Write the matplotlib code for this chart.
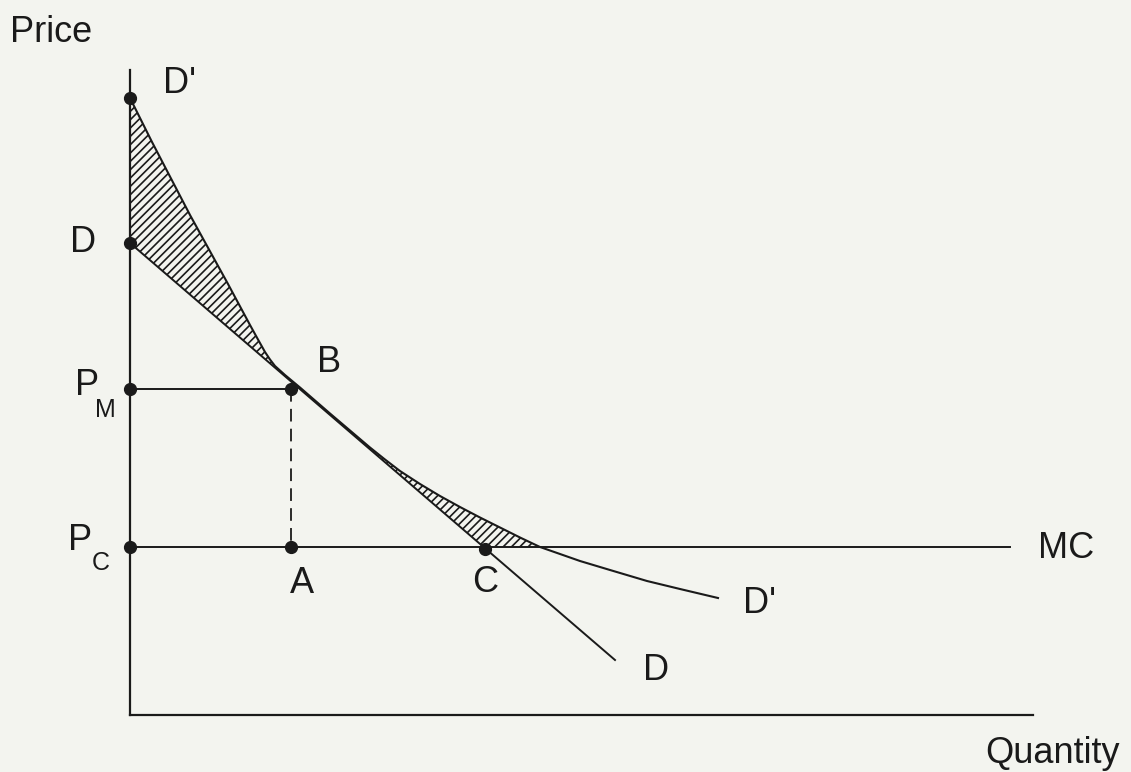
import numpy as np
import matplotlib
matplotlib.use("Agg")
import matplotlib.pyplot as plt

plt.rcParams['font.family'] = ['Liberation Sans', 'DejaVu Sans']
plt.rcParams['hatch.linewidth'] = 1.2

ink = '#1a1a1a'
paper = '#f3f4ef'

# demand curve D (straight line), quantity / price
d_q = [0, 485]
d_p = [472, 55]

# demand curve D'
dp_q = [0, 22, 60, 98, 120, 128, 135, 140, 145, 155, 170, 200, 240, 255, 270,
        290, 310, 330, 350, 370, 390, 410, 450, 480, 517, 550, 588]
dp_p = [617, 573, 500, 431, 390, 375.5, 363, 355.5, 349, 340, 327.5, 301.5, 267.5, 255.5, 244,
        231, 219, 208, 197.5, 187.5, 177.5, 168, 154, 145, 134, 126, 117]

mc_p = 168
mc_end = 880
p_m = 326
q_m = 161
q_c = 355
axis_top = 645
axis_right = 903

fig = plt.figure(figsize=(11.31, 7.72), dpi=100)
fig.patch.set_facecolor(paper)
ax = fig.add_axes([0, 0, 1, 1])
ax.set_facecolor(paper)
ax.set_xlim(-130, 1001)
ax.set_ylim(-57, 715)
ax.axis('off')

# axes
ax.plot([0, 0], [0, axis_top], color=ink, lw=1.6)
ax.plot([0, axis_right], [0, 0], color=ink, lw=1.6)

# MC, monopoly price, dashed drop to A
ax.plot([0, mc_end], [mc_p, mc_p], color=ink, lw=1.4)
ax.plot([0, q_m], [p_m, p_m], color=ink, lw=1.4)
ax.plot([q_m, q_m], [p_m, mc_p], color=ink, lw=1.3, dashes=(7, 4))

# demand curves
ax.plot(d_q, d_p, color=ink, lw=1.4)
ax.plot(dp_q, dp_p, color=ink, lw=1.5, solid_joinstyle='round')

# hatched areas between the two demand curves
qa = np.array(dp_q)
pa = np.array(dp_p)
d_at = np.interp(qa, d_q, d_p)
up = qa <= 170
ax.fill_between(qa[up], pa[up], d_at[up], facecolor='none', edgecolor=ink,
                linewidth=0, hatch='////')
lo = (qa >= 240) & (qa <= 410)
ax.fill_between(qa[lo], pa[lo], np.maximum(d_at[lo], mc_p), facecolor='none',
                edgecolor=ink, linewidth=0, hatch='////')

# points
dots_q = [0, 0, 0, 0, q_m, q_m, q_c]
dots_p = [617, 472, p_m, mc_p, p_m, mc_p, 166]
ax.plot(dots_q, dots_p, 'o', color=ink, ms=8.5)

fs = 26
sub = 18
ax.text(-120, 673, 'Price', fontsize=fs, color=ink)
ax.text(855, -48, 'Quantity', fontsize=fs, color=ink)
ax.text(33, 622, "D'", fontsize=fs, color=ink)
ax.text(-60, 463, 'D', fontsize=fs, color=ink)
ax.text(-55, 320, 'P', fontsize=fs, color=ink)
ax.text(-35, 298, 'M', fontsize=sub, color=ink)
ax.text(-62, 165, 'P', fontsize=fs, color=ink)
ax.text(-38, 145, 'C', fontsize=sub, color=ink)
ax.text(187, 343, 'B', fontsize=fs, color=ink)
ax.text(160, 122, 'A', fontsize=fs, color=ink)
ax.text(342, 123, 'C', fontsize=fs, color=ink)
ax.text(613, 102, "D'", fontsize=fs, color=ink)
ax.text(513, 35, 'D', fontsize=fs, color=ink)
ax.text(908, 157, 'MC', fontsize=fs, color=ink)

fig.savefig('out.png', dpi=100, facecolor=paper)
